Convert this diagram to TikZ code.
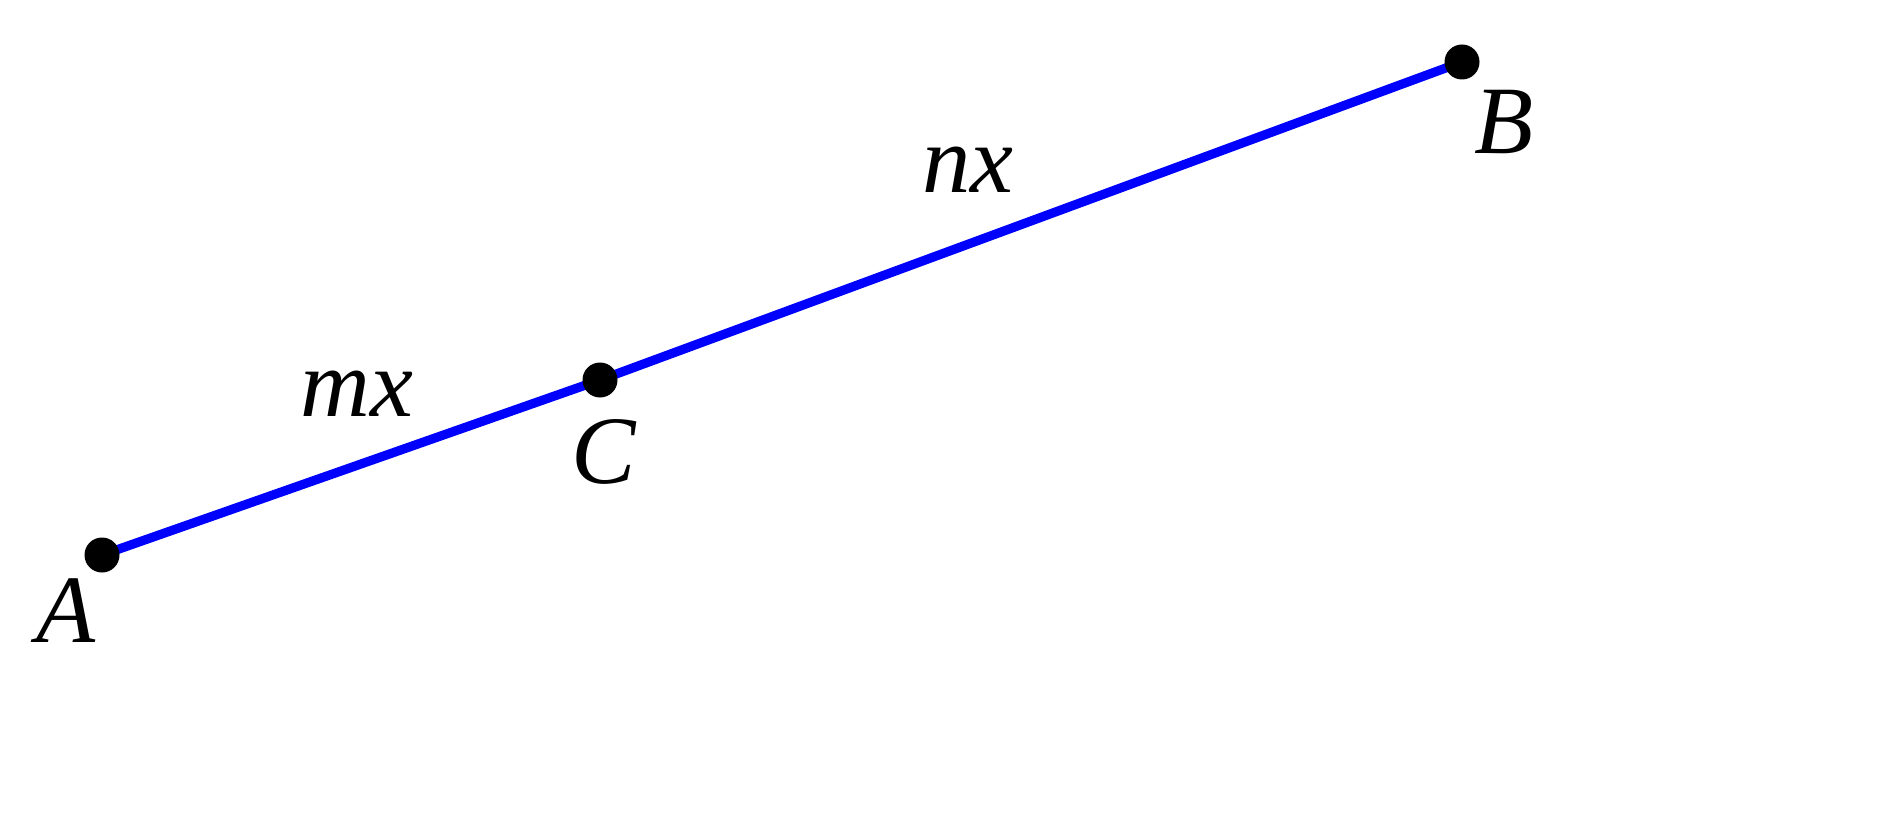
\documentclass[tikz,border=0pt]{standalone}
\usepackage{fontspec}
\setmainfont{Liberation Serif}
\usetikzlibrary{positioning}

\tikzset{
  dot/.style={circle, fill=black, inner sep=0pt, minimum size=0.35cm},
  seg/.style={line width=2.6pt, blue},
  lbl/.style={font=\fontsize{27.5}{32}\selectfont\itshape, inner sep=0pt}
}

\begin{document}
\begin{tikzpicture}
        \useasboundingbox (0,0) rectangle (19,8.28);

        % Points
        \coordinate (A) at (1.02,2.73);
        \coordinate (C) at (6.00,4.48);
        \coordinate (B) at (14.62,7.66);

        % Segment
        \draw[seg] (A) -- (C) -- (B);

        % Dots
        \node[dot] (dA) at (A) {};
        \node[dot] (dC) at (C) {};
        \node[dot] (dB) at (B) {};

        % Labels
        \node[lbl] (lA) at (0.66,2.17) {A};
        \node[lbl] (lC) at (6.04,3.76) {C};
        \node[lbl] (lB) at (15.04,7.06) {B};
        \node[lbl] (lmx) at (3.57,4.34) {mx};
        \node[lbl] (lnx) at (9.68,6.58) {nx};

    \end{tikzpicture}
\end{document}
